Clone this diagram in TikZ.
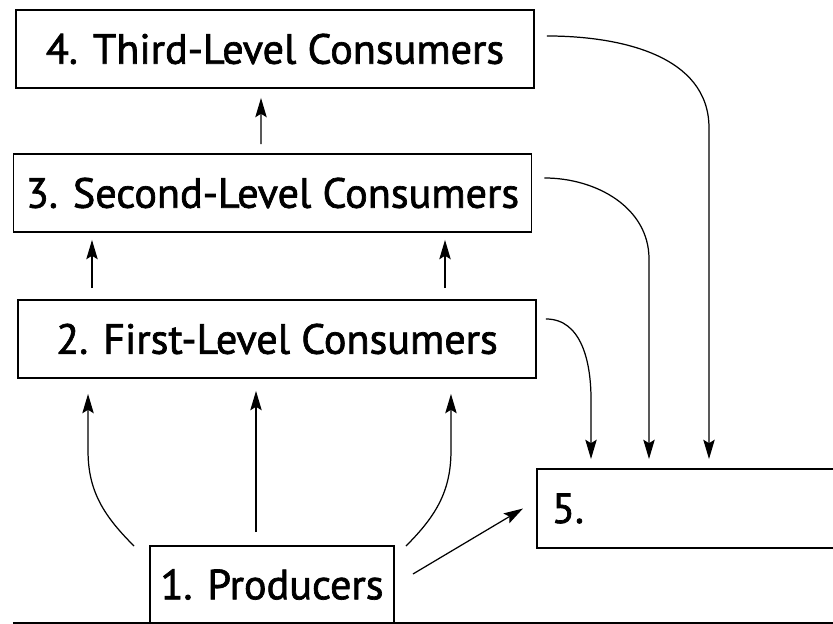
\documentclass[tikz,border=0pt]{standalone}
\usepackage{fontspec}
\setmainfont{PT Sans}
\newfontfamily\boxfont{PT Sans}[FakeBold=1.6]
\usetikzlibrary{positioning,arrows.meta}
\tikzstyle{level} = [rectangle, minimum width=10.36cm, minimum height=1.56cm, text centered, draw=black, line width=1.1pt, font=\boxfont\fontsize{24}{28}\selectfont]
\tikzstyle{sink} = [rectangle, minimum height=1.58cm, text width=5.9cm, inner xsep=0.3cm, align=left, draw=black, line width=1.1pt, anchor=west, font=\boxfont\fontsize{24}{28}\selectfont]
\tikzstyle{arrow} = [line width=0.7pt,-{Stealth[length=11pt,width=6.5pt,inset=2pt]}]

\begin{document}
\begin{tikzpicture}[node distance=2.92cm]
\useasboundingbox (0,0) rectangle (16.66,12.48);
\node (prod) [level,minimum width=4.88cm,minimum height=1.54cm] at (5.44,0.79) {1. Producers};
\node (level1) [level] at (5.54,5.70) {2. First-Level Consumers};
\node (level2) [level,above of=level1,xshift=-0.09cm] {3. Second-Level Consumers};
\node (level3) [level,above of=level2,xshift=0.05cm,yshift=-0.04cm] {4. Third-Level Consumers};
\node (five) [sink] at (10.72,2.31) {5.};
\draw [line width=1.1pt] (0.26,0.02) -- (16.8,0.02);
\draw [arrow] ([xshift=-0.32cm,yshift=0.26cm]prod.north) -- ([xshift=-0.42cm,yshift=-0.24cm]level1.south);
\draw [arrow] ([xshift=-0.30cm,yshift=-0.02cm]prod.north west) to[out=135,in=-90] ([xshift=1.42cm,yshift=-1.44cm]level1.south west) -- ([xshift=1.42cm,yshift=-0.30cm]level1.south west);
\draw [arrow] ([xshift=0.22cm,yshift=-0.02cm]prod.north east) to[out=45,in=-90] ([xshift=-1.72cm,yshift=-1.44cm]level1.south east) -- ([xshift=-1.72cm,yshift=-0.30cm]level1.south east);
\draw [arrow] ([xshift=-3.70cm,yshift=0.22cm]level1.north) -- ([xshift=-3.61cm,yshift=-0.14cm]level2.south);
\draw [arrow] ([xshift=3.36cm,yshift=0.22cm]level1.north) -- ([xshift=3.45cm,yshift=-0.14cm]level2.south);
\draw [arrow] ([xshift=-0.23cm,yshift=0.18cm]level2.north) -- ([xshift=-0.28cm,yshift=-0.18cm]level3.south);
\draw [arrow] ([xshift=0.36cm,yshift=0.21cm]prod.east) -- ([xshift=-0.26cm]five.west);
\draw [arrow] ([xshift=0.18cm,yshift=0.40cm]level1.east) to[out=0,in=90] ([xshift=1.10cm,yshift=1.38cm]five.north west) -- ([xshift=1.10cm,yshift=0.18cm]five.north west);
\draw [arrow] ([xshift=0.24cm,yshift=0.30cm]level2.east) to[out=0,in=90] ([xshift=2.26cm,yshift=4.18cm]five.north west) -- ([xshift=2.26cm,yshift=0.18cm]five.north west);
\draw [arrow] ([xshift=0.24cm,yshift=0.26cm]level3.east) to[out=0,in=90] ([xshift=3.46cm,yshift=6.80cm]five.north west) -- ([xshift=3.46cm,yshift=0.18cm]five.north west);
\end{tikzpicture}
\end{document}
